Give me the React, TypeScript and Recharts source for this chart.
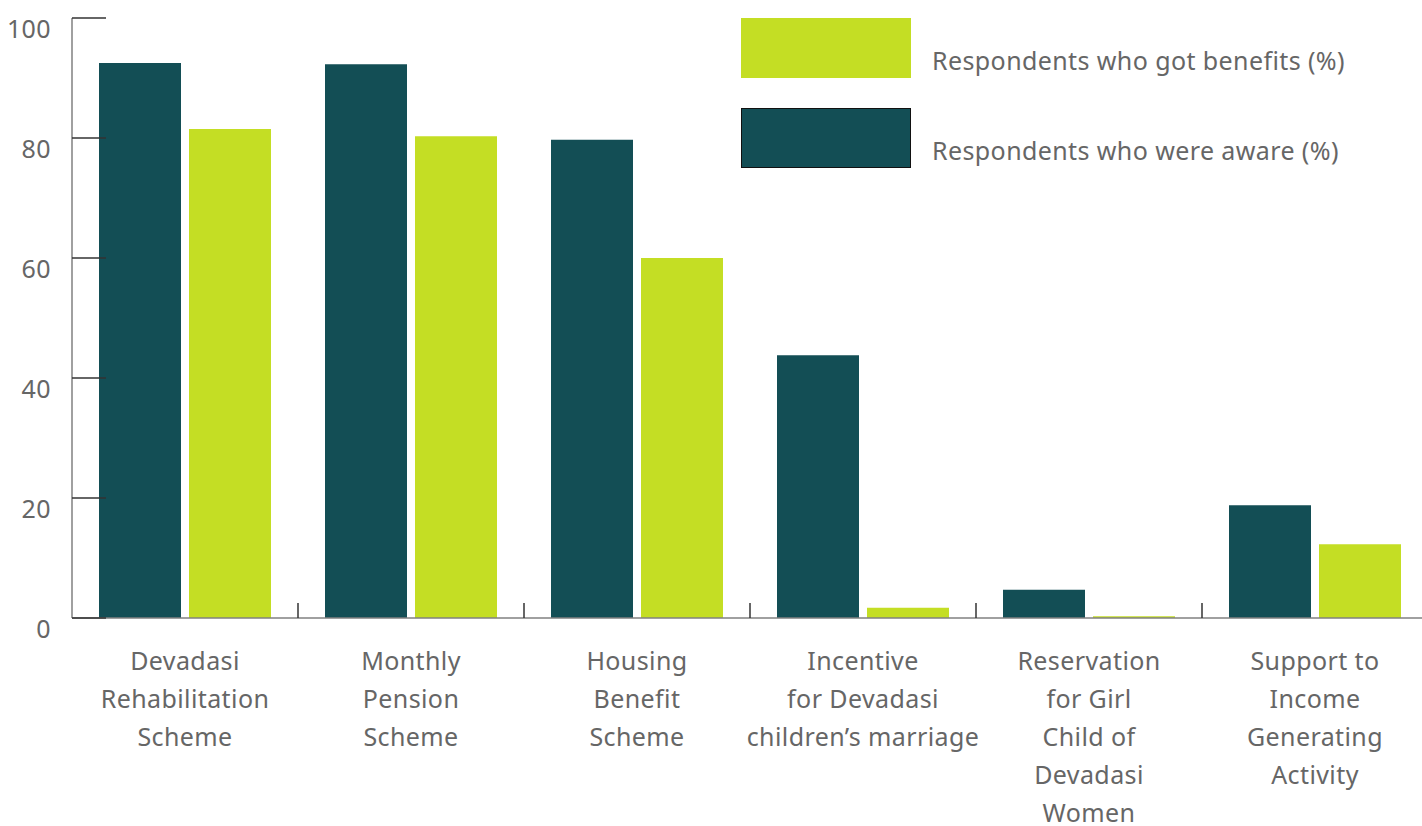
import React from 'react';
import { BarChart, Bar, XAxis, YAxis } from 'recharts';

const categories = [
  'Devadasi Rehabilitation Scheme',
  'Monthly Pension Scheme',
  'Housing Benefit Scheme',
  'Incentive for Devadasi children’s marriage',
  'Reservation for Girl Child of Devadasi Women',
  'Support to Income Generating Activity',
];
const labelLines = [
  ['Devadasi', 'Rehabilitation', 'Scheme'],
  ['Monthly', 'Pension', 'Scheme'],
  ['Housing', 'Benefit', 'Scheme'],
  ['Incentive', 'for Devadasi', 'children’s marriage'],
  ['Reservation', 'for Girl', 'Child of', 'Devadasi', 'Women'],
  ['Support to', 'Income', 'Generating', 'Activity'],
];
const aware = [92.5, 92.3, 79.7, 43.8, 4.7, 18.8];
const benefits = [81.5, 80.3, 60.0, 1.7, 0.3, 12.3];
const yTicks = [0, 20, 40, 60, 80, 100];
const legendLabels = ['Respondents who got benefits (%)', 'Respondents who were aware (%)'];

const AWARE_COLOR = '#134E55';
const BENEFIT_COLOR = '#C4DE24';
const TEXT_COLOR = '#666666';
const FONT = '"Noto Sans", "Open Sans", sans-serif';
const FS = 25;
const LS = 0.4;

const data = categories.map((c, i) => ({
  name: c,
  aware: aware[i],
  benefits: benefits[i],
}));

const PLOT_LEFT = 72;
const CHART_W = 1428;

const YTick = (props: any) => {
  const { y, payload } = props;
  return (
    <g>
      <line x1={PLOT_LEFT} x2={PLOT_LEFT + 34} y1={y} y2={y} stroke="#333" strokeWidth={1.5} />
      <text
        x={51}
        y={y + 13}
        textAnchor="end"
        dominantBaseline="middle"
        fill={TEXT_COLOR}
        fontSize={FS}
        fontFamily={FONT}
        letterSpacing={LS}
      >
        {payload.value}
      </text>
    </g>
  );
};

const XTick = (props: any) => {
  const { x, y, payload, index } = props;
  const half = payload && payload.offset ? payload.offset : (CHART_W - PLOT_LEFT) / categories.length / 2;
  const lines = labelLines[index] || [];
  const axisY = y - 8;
  return (
    <g>
      {index < categories.length - 1 && (
        <line x1={x + half} x2={x + half} y1={axisY - 15} y2={axisY} stroke="#333" strokeWidth={1.5} />
      )}
      <text
        x={x}
        y={axisY + 45}
        textAnchor="middle"
        dominantBaseline="middle"
        fill={TEXT_COLOR}
        fontSize={FS}
        fontFamily={FONT}
        letterSpacing={LS}
      >
        {lines.map((l, i) => (
          <tspan key={i} x={x} dy={i === 0 ? 0 : 38}>
            {l}
          </tspan>
        ))}
      </text>
    </g>
  );
};

const LegendOverlay = () => {
  const items = [
    { label: legendLabels[0], color: BENEFIT_COLOR, border: false },
    { label: legendLabels[1], color: AWARE_COLOR, border: true },
  ];
  return (
    <>
      {items.map((it, i) => (
        <React.Fragment key={i}>
          <div
            style={{
              position: 'absolute',
              left: 741,
              top: 18 + i * 90,
              width: 170,
              height: 60,
              background: it.color,
              boxSizing: 'border-box',
              border: it.border ? '1px solid #111' : 'none',
            }}
          />
          <div
            style={{
              position: 'absolute',
              left: 932,
              top: 44 + i * 90,
              fontSize: FS,
              lineHeight: '32px',
              letterSpacing: LS,
              color: TEXT_COLOR,
              fontFamily: FONT,
              whiteSpace: 'nowrap',
            }}
          >
            {it.label}
          </div>
        </React.Fragment>
      ))}
    </>
  );
};

export default function App() {
  return (
    <div style={{ position: 'absolute', left: 0, top: 0, width: 1422, height: 826, overflow: 'hidden', background: '#fff' }}>
      <BarChart
        width={CHART_W}
        height={826}
        data={data}
        margin={{ top: 18, right: 0, bottom: 0, left: 0 }}
        barCategoryGap={27}
        barGap={8}
      >
        <YAxis
          type="number"
          domain={[0, 100]}
          ticks={yTicks}
          width={PLOT_LEFT}
          axisLine={{ stroke: '#808080', strokeWidth: 1.5 }}
          tickLine={false}
          tick={<YTick />}
          interval={0}
        />
        <XAxis
          dataKey="name"
          height={208}
          axisLine={{ stroke: '#808080', strokeWidth: 1.5 }}
          tickLine={false}
          tick={<XTick />}
          interval={0}
        />
        <Bar dataKey="aware" fill={AWARE_COLOR} isAnimationActive={false} />
        <Bar dataKey="benefits" fill={BENEFIT_COLOR} isAnimationActive={false} />
      </BarChart>
      <LegendOverlay />
    </div>
  );
}
